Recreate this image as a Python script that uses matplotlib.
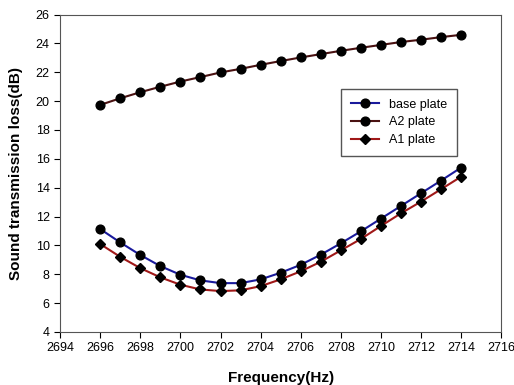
import matplotlib.pyplot as plt

plt.rcParams['font.family'] = ['Liberation Sans', 'DejaVu Sans']

freq = list(range(2696, 2715))
base_plate = [11.13, 10.2, 9.33, 8.56, 7.96, 7.57, 7.38, 7.38, 7.64, 8.1,
              8.65, 9.35, 10.14, 10.97, 11.85, 12.73, 13.61, 14.49, 15.39]
a2_plate = [19.74, 20.2, 20.62, 21.0, 21.36, 21.67, 21.99, 22.24, 22.52, 22.78,
            23.03, 23.26, 23.49, 23.7, 23.9, 24.1, 24.26, 24.44, 24.6]
a1_plate = [10.09, 9.2, 8.42, 7.78, 7.27, 6.94, 6.83, 6.88, 7.17, 7.64,
            8.2, 8.86, 9.65, 10.44, 11.34, 12.22, 13.03, 13.89, 14.76]

fig = plt.figure(figsize=(5.14, 3.85), dpi=100)
ax = fig.add_axes([0.117, 0.138, 0.858, 0.824])

ax.plot(freq, base_plate, color='#1a1a9c', lw=1.5, marker='o', ms=6.3,
        mfc='black', mec='black', label='base plate')
ax.plot(freq, a2_plate, color='#4a1212', lw=1.5, marker='o', ms=6.3,
        mfc='black', mec='black', label='A2 plate')
ax.plot(freq, a1_plate, color='#a01818', lw=1.5, marker='D', ms=5,
        mfc='black', mec='black', label='A1 plate')

ax.set_xlim(2694, 2716)
ax.set_ylim(4, 26)
ax.set_xticks(range(2694, 2717, 2))
ax.set_yticks(range(4, 27, 2))
ax.tick_params(direction='out', length=4, labelsize=9, top=False, right=False)
for s in ax.spines.values():
    s.set_color('#555555')

ax.set_xlabel('Frequency(Hz)', fontsize=11, fontweight='bold', labelpad=12)
ax.set_ylabel('Sound transmission loss(dB)', fontsize=11, fontweight='bold', labelpad=9)

leg = ax.legend(loc='upper left', bbox_to_anchor=(0.637, 0.766), fontsize=9,
                fancybox=False, framealpha=1, edgecolor='#555555',
                handlelength=2.2, borderpad=0.8, labelspacing=0.45,
                borderaxespad=0)
leg.get_frame().set_linewidth(1)

fig.savefig('out.png', dpi=100)
